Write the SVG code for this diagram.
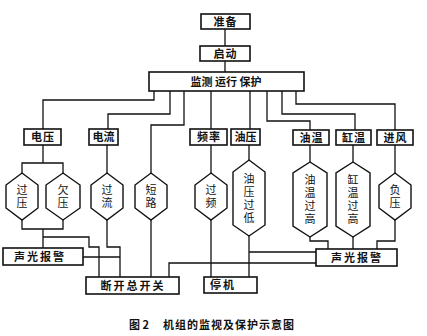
<svg xmlns="http://www.w3.org/2000/svg" width="427" height="336" viewBox="0 0 427 336">
<style>
.box{fill:#fff;stroke:#111;stroke-width:1.6}
.hex{fill:#fff;stroke:#111;stroke-width:1.4}
.ln{fill:none;stroke:#111;stroke-width:1.3}
.bt{font-family:"Noto Sans CJK SC","Noto Sans",sans-serif;font-size:11px;font-weight:bold;fill:#111;text-anchor:middle}
.ht{font-family:"Noto Sans CJK SC","Noto Sans",sans-serif;font-size:11px;fill:#111;text-anchor:middle;writing-mode:vertical-rl;letter-spacing:2px}
.cap{font-family:"Noto Sans CJK SC","Noto Sans",sans-serif;font-size:11px;font-weight:bold;fill:#111}
</style>
<rect width="427" height="336" fill="#fff"/>
<g id="connectors">
<path class="ln" d="M225,29V46M225,61V72"/>
<path class="ln" d="M154,91V100H43V129"/>
<path class="ln" d="M170,91V114H108V129"/>
<path class="ln" d="M184,91V125H151V173"/>
<path class="ln" d="M211,91V129"/>
<path class="ln" d="M250,91V129"/>
<path class="ln" d="M267,91V121H310V130"/>
<path class="ln" d="M282,91V114H355V130"/>
<path class="ln" d="M296,91V104H395V130"/>
<path class="ln" d="M43,145V163M22,173V163H63V173"/>
<path class="ln" d="M107,145V173M211,144V173M249,145V160M310,145V162M353,145V162M395,145V173"/>
<path class="ln" d="M22,220V229H63V220M43,229V248"/>
<path class="ln" d="M43,237H89V247H99V277"/>
<path class="ln" d="M107,220V247H120V277"/>
<path class="ln" d="M83,257H120"/>
<path class="ln" d="M151,220V277"/>
<path class="ln" d="M169,277V263H316"/>
<path class="ln" d="M211,220V277"/>
<path class="ln" d="M249,236V277M249,252H316"/>
<path class="ln" d="M310,237V241H328V249"/>
<path class="ln" d="M353,237V249"/>
<path class="ln" d="M395,220V241H377V249"/>
</g>
<g id="zhunbei"><rect class="box" x="201" y="14" width="49" height="15"/><text class="bt" x="225.5" y="25.5" letter-spacing="1">准备</text></g>
<g id="qidong"><rect class="box" x="200" y="46" width="50" height="15"/><text class="bt" x="225.5" y="57.5" letter-spacing="1">启动</text></g>
<g id="jiance"><rect class="box" x="149" y="72" width="155" height="19"/><text class="bt" x="226" y="86" xml:space="preserve">监测 运行 保护</text></g>
<g id="dianya"><rect class="box" x="24" y="129" width="37" height="16"/><text class="bt" x="43" y="141" letter-spacing="1">电压</text></g>
<g id="dianliu"><rect class="box" x="89" y="129" width="29" height="16"/><text class="bt" x="103.5" y="141">电流</text></g>
<g id="pinlv"><rect class="box" x="190" y="129" width="37" height="16"/><text class="bt" x="209" y="141" letter-spacing="1">频率</text></g>
<g id="youya"><rect class="box" x="231" y="129" width="29" height="16"/><text class="bt" x="245.5" y="141">油压</text></g>
<g id="youwen"><rect class="box" x="293" y="130" width="36" height="15"/><text class="bt" x="311.5" y="141.5" letter-spacing="1">油温</text></g>
<g id="gangwen"><rect class="box" x="336" y="130" width="35" height="15"/><text class="bt" x="354" y="141.5" letter-spacing="1">缸温</text></g>
<g id="jinfeng"><rect class="box" x="377" y="130" width="36" height="15"/><text class="bt" x="395.5" y="141.5" letter-spacing="1">进风</text></g>
<g id="guoya"><polygon class="hex" points="22,173 38,185 38,208 22,220 6,208 6,185"/><text class="ht" x="22" y="197.5">过压</text></g>
<g id="qianya"><polygon class="hex" points="63,173 80,185 80,208 63,220 46,208 46,185"/><text class="ht" x="63" y="197.5">欠压</text></g>
<g id="guoliu"><polygon class="hex" points="107,173 123,185 123,208 107,220 91,208 91,185"/><text class="ht" x="107" y="197.5">过流</text></g>
<g id="duanlu"><polygon class="hex" points="151,173 167,185 167,208 151,220 135,208 135,185"/><text class="ht" x="151" y="197.5">短路</text></g>
<g id="guopin"><polygon class="hex" points="211,173 227,185 227,208 211,220 195,208 195,185"/><text class="ht" x="211" y="197.5">过频</text></g>
<g id="youyaguodi"><polygon class="hex" points="249,160 265,172 265,225 249,236 233,225 233,172"/><text class="ht" x="249" y="199">油压过低</text></g>
<g id="youwenguogao"><polygon class="hex" points="310,162 327,173 327,226 310,237 293,226 293,173"/><text class="ht" x="310" y="200.5">油温过高</text></g>
<g id="gangwenguogao"><polygon class="hex" points="353,162 370,173 370,226 353,237 336,226 336,173"/><text class="ht" x="353" y="200.5">缸温过高</text></g>
<g id="fuya"><polygon class="hex" points="395,173 411,185 411,208 395,220 379,208 379,185"/><text class="ht" x="395" y="197.5">负压</text></g>
<g id="alarm-left"><rect class="box" x="3" y="248" width="80" height="17"/><text class="bt" x="40" y="260.5" letter-spacing="2">声光报警</text></g>
<g id="alarm-right"><rect class="box" x="316" y="249" width="81" height="17"/><text class="bt" x="357" y="261.5" letter-spacing="2">声光报警</text></g>
<g id="duankai"><rect class="box" x="86" y="277" width="93" height="17"/><text class="bt" x="133" y="289.5" letter-spacing="2">断开总开关</text></g>
<g id="tingji"><rect class="box" x="204" y="277" width="53" height="16"/><text class="bt" x="223" y="289" letter-spacing="2">停机</text></g>
<text class="cap" x="129" y="329">图 2</text>
<text class="cap" x="163" y="329" letter-spacing="1">机组的监视及保护示意图</text>
</svg>
